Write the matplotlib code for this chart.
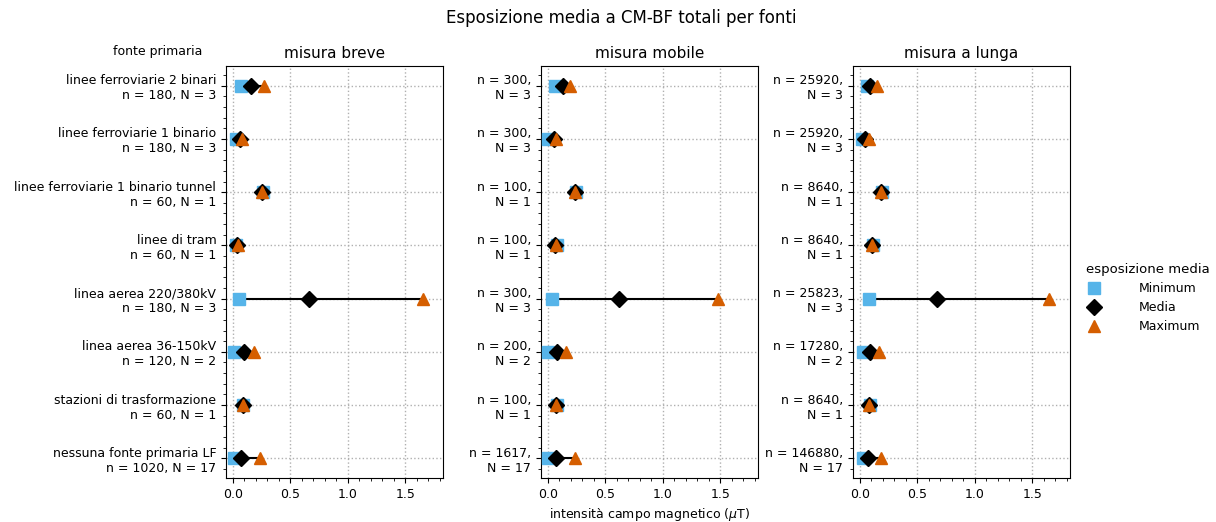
import matplotlib
matplotlib.use("Agg")
import matplotlib.pyplot as plt
from matplotlib.ticker import AutoMinorLocator, MultipleLocator
from matplotlib.lines import Line2D

sources = ["linee ferroviarie 2 binari", "linee ferroviarie 1 binario",
           "linee ferroviarie 1 binario tunnel", "linee di tram",
           "linea aerea 220/380kV", "linea aerea 36-150kV",
           "stazioni di trasformazione", "nessuna fonte primaria LF"]

panels = ["misura breve", "misura mobile", "misura a lunga"]

n_breve = [180, 180, 60, 60, 180, 120, 60, 1020]
N_breve = [3, 3, 1, 1, 3, 2, 1, 17]
n_mobile = [300, 300, 100, 100, 300, 200, 100, 1617]
N_mobile = [3, 3, 1, 1, 3, 2, 1, 17]
n_lunga = [25920, 25920, 8640, 8640, 25823, 17280, 8640, 146880]
N_lunga = [3, 3, 1, 1, 3, 2, 1, 17]

min_breve = [0.07, 0.03, 0.26, 0.03, 0.05, 0.01, 0.09, 0.01]
mean_breve = [0.155, 0.06, 0.25, 0.04, 0.66, 0.10, 0.085, 0.07]
max_breve = [0.27, 0.075, 0.25, 0.045, 1.66, 0.185, 0.085, 0.24]

min_mobile = [0.06, 0.005, 0.245, 0.08, 0.04, 0.0, 0.08, 0.0]
mean_mobile = [0.13, 0.055, 0.24, 0.06, 0.62, 0.08, 0.07, 0.07]
max_mobile = [0.195, 0.07, 0.24, 0.07, 1.48, 0.155, 0.07, 0.235]

min_lunga = [0.06, 0.015, 0.19, 0.115, 0.08, 0.025, 0.085, 0.025]
mean_lunga = [0.09, 0.045, 0.185, 0.105, 0.675, 0.09, 0.08, 0.07]
max_lunga = [0.145, 0.08, 0.185, 0.105, 1.65, 0.17, 0.08, 0.185]

c_min = "#56B4E9"
c_max = "#D55E00"

fig = plt.figure(figsize=(12.16, 5.22), dpi=100)
lefts = [226, 541, 853]
width = 217
top_px, bot_px = 66, 478
W, H = 1216, 522

data = [
    (min_breve, mean_breve, max_breve, n_breve, N_breve),
    (min_mobile, mean_mobile, max_mobile, n_mobile, N_mobile),
    (min_lunga, mean_lunga, max_lunga, n_lunga, N_lunga),
]

ypos = list(range(len(sources)))
for i, (mn, me, mx, nn, NN) in enumerate(data):
    ax = fig.add_axes([lefts[i] / W, 1 - bot_px / H, width / W, (bot_px - top_px) / H])
    ax.hlines(ypos, mn, mx, color="black", lw=1.5, zorder=2)
    ax.plot(mn, ypos, ls="none", marker="s", ms=8, color=c_min, zorder=3)
    ax.plot(me, ypos, ls="none", marker="D", ms=8, color="black", zorder=4)
    ax.plot(mx, ypos, ls="none", marker="^", ms=8, color=c_max, zorder=5)
    ax.set_xlim(-0.06, 1.83)
    ax.set_ylim(7.37, -0.37)
    ax.set_yticks(ypos)
    if i == 0:
        labels = [f"{s}\nn = {a}, N = {b}" for s, a, b in zip(sources, nn, NN)]
    else:
        labels = [f"n = {a},\nN = {b}" for a, b in zip(nn, NN)]
    ax.set_yticklabels(labels, fontsize=9, ha="right")
    ax.xaxis.set_major_locator(MultipleLocator(0.5))
    ax.xaxis.set_minor_locator(AutoMinorLocator(5))
    ax.yaxis.set_minor_locator(AutoMinorLocator(5))
    ax.tick_params(axis="x", labelsize=9)
    ax.grid(True, which="major", ls=":", color="#b0b0b0", lw=1)
    ax.set_axisbelow(True)
    ax.set_title(panels[i], fontsize=11)
    if i == 1:
        ax.set_xlabel("intensità campo magnetico ($\\mu$T)", fontsize=9)

fig.text(621 / W, 1 - 18 / H, "Esposizione media a CM-BF totali per fonti",
         ha="center", va="center", fontsize=12)
fig.text(158 / W, 1 - 52 / H, "fonte primaria", ha="center", va="center", fontsize=9)

handles = [
    Line2D([], [], ls="none", marker="s", ms=8, color=c_min, label="Minimum"),
    Line2D([], [], ls="none", marker="D", ms=8, color="black", label="Media"),
    Line2D([], [], ls="none", marker="^", ms=8, color=c_max, label="Maximum"),
]
fig.legend(handles=handles, title="esposizione media", loc="center left",
           bbox_to_anchor=(1080 / W, 1 - 298 / H), frameon=False, fontsize=9,
           title_fontsize=9.5, alignment="left", handlelength=1.3,
           handletextpad=2.9, borderaxespad=0.2, borderpad=0.3)

fig.savefig("out.png", dpi=100)
